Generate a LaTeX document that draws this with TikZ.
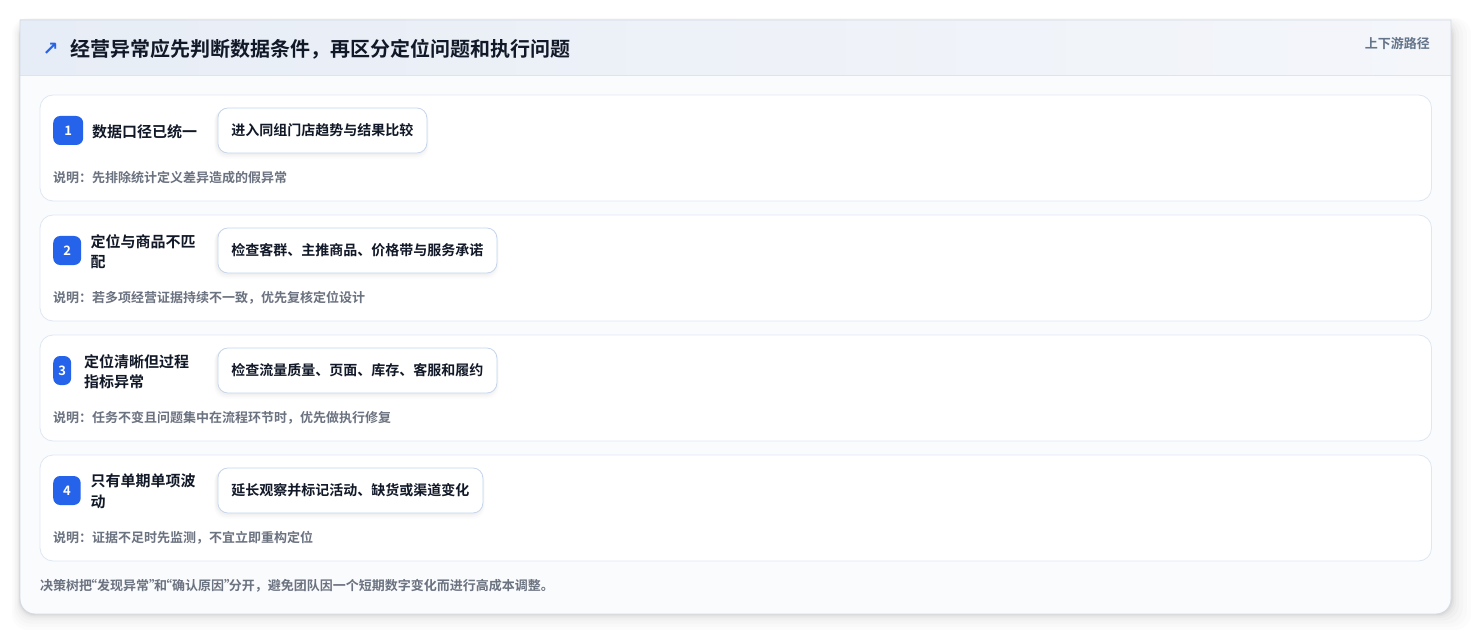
\documentclass[tikz,border=0pt]{standalone}
\usepackage{fontspec}
\setmainfont{Noto Sans CJK SC}[BoldFont={Noto Sans CJK SC Bold}]
\newfontfamily\symfont{DejaVu Sans}
\definecolor{cardbg}{HTML}{FAFBFD}
\definecolor{cardline}{HTML}{D3DAE4}
\definecolor{hdrL}{HTML}{E7EDF6}
\definecolor{hdrR}{HTML}{F4F6FA}
\definecolor{hdrline}{HTML}{DCE4EE}
\definecolor{rowline}{HTML}{DFE7F2}
\definecolor{actline}{HTML}{C5D5EC}
\definecolor{badgeblue}{HTML}{2563EB}
\definecolor{ink}{HTML}{111827}
\definecolor{muted}{HTML}{6B7280}
\definecolor{sub}{HTML}{64748B}
\newcommand\myoq{\makebox[0.38em][r]{“}}
\newcommand\mycq{\makebox[0.38em][l]{”}}
\tikzset{
  rowbox/.style={draw=rowline, line width=0.8pt, fill=white, rounded corners=13pt},
  badge/.style={anchor=west, fill=badgeblue, rounded corners=7pt, minimum height=29pt, inner sep=0pt,
    text=white, font=\fontsize{13}{13}\selectfont\bfseries},
  lbl/.style={anchor=west, align=left, inner sep=0pt, text=ink, font=\fontsize{15}{20.5}\selectfont\bfseries},
  act/.style={anchor=west, draw=actline, line width=0.8pt, fill=white, rounded corners=10pt,
    minimum height=45pt, inner xsep=0pt, text=ink, font=\fontsize{14}{14}\selectfont\bfseries},
  desc/.style={anchor=west, inner sep=0pt, text=muted, font=\fontsize{13}{13}\selectfont\bfseries},
}
\begin{document}
\begin{tikzpicture}[x=1pt,y=-1pt]
\useasboundingbox (0,0) rectangle (1471,636);
\fill[white] (0,0) rectangle (1471,636);
% outer shadow
\foreach \i/\o in {20/0.010,16/0.012,12/0.015,8/0.02,5/0.025,3/0.03,1.5/0.04}{
  \fill[black,opacity=\o,rounded corners=16pt] (20-\i*0.4,20-\i*0.1) rectangle (1451+\i,614+\i*0.8);
}
% card
\path[fill=cardbg] (20,20) -- (1451,20) -- (1451,599) arc[start angle=0,end angle=-90,radius=15pt] -- (35,614) arc[start angle=-90,end angle=-180,radius=15pt] -- cycle;
\shade[left color=hdrL, right color=hdrR] (20,20) rectangle (1451,75);
\draw[hdrline, line width=0.8pt] (20,75) -- (1451,75);
\draw[cardline, line width=0.9pt] (20,20) -- (1451,20) -- (1451,599) arc[start angle=0,end angle=-90,radius=15pt] -- (35,614) arc[start angle=-90,end angle=-180,radius=15pt] -- cycle;
% header
\node[anchor=center, inner sep=0pt, text=badgeblue, font=\symfont\bfseries\fontsize{19}{19}\selectfont] (arrow) at (50.5,49) {↗};
\node[anchor=west, inner sep=0pt, text=ink, font=\fontsize{20}{20}\selectfont\bfseries] (title) at (69.8,49.5) {经营异常应先判断数据条件，再区分定位问题和执行问题};
\node[anchor=east, inner sep=0pt, text=sub, font=\fontsize{13}{13}\selectfont\bfseries] (tag) at (1430,44) {上下游路径};
% rows
\foreach \k/\bw/\lx/\ltxt/\atxt/\aw/\dtxt in {
  1/30/92/{数据口径已统一}/{进入同组门店趋势与结果比较}/209/{说明：先排除统计定义差异造成的假异常},
  2/28/90.5/{定位与商品不匹\\配}/{检查客群、主推商品、价格带与服务承诺}/279/{说明：若多项经营证据持续不一致，优先复核定位设计},
  3/18/84/{定位清晰但过程\\指标异常}/{检查流量质量、页面、库存、客服和履约}/279/{说明：任务不变且问题集中在流程环节时，优先做执行修复},
  4/27.5/90.5/{只有单期单项波\\动}/{延长观察并标记活动、缺货或渠道变化}/265/{说明：证据不足时先监测，不宜立即重构定位}}{
  \pgfmathsetmacro\t{95+120*(\k-1)}
  \draw[rowbox] (40,\t) rectangle (1431.5,\t+106);
  \node[badge, minimum width=\bw pt] (b\k) at (53,\t+35.5) {\k};
  \node[lbl] (l\k) at (\lx,\t+36.5) {\ltxt};
  \foreach \s/\o in {5/0.012,3.5/0.018,2/0.025}{
    \fill[black,opacity=\o,rounded corners=12pt] (217-\s*0.6,\t+13+\s*0.2) rectangle (217+\aw+\s*0.6,\t+58+\s*1.2);
  }
  \node[act, minimum width=\aw pt] (a\k) at (217.5,\t+35.5) {\atxt};
  \node[desc] (d\k) at (53,\t+83) {\dtxt};
}
\node[anchor=west, inner sep=0pt, text=muted, font=\fontsize{13}{13}\selectfont\bfseries] (foot) at (40,585.5) {决策树把\myoq 发现异常\mycq 和\myoq 确认原因\mycq 分开，避免团队因一个短期数字变化而进行高成本调整。};
\end{tikzpicture}
\end{document}
